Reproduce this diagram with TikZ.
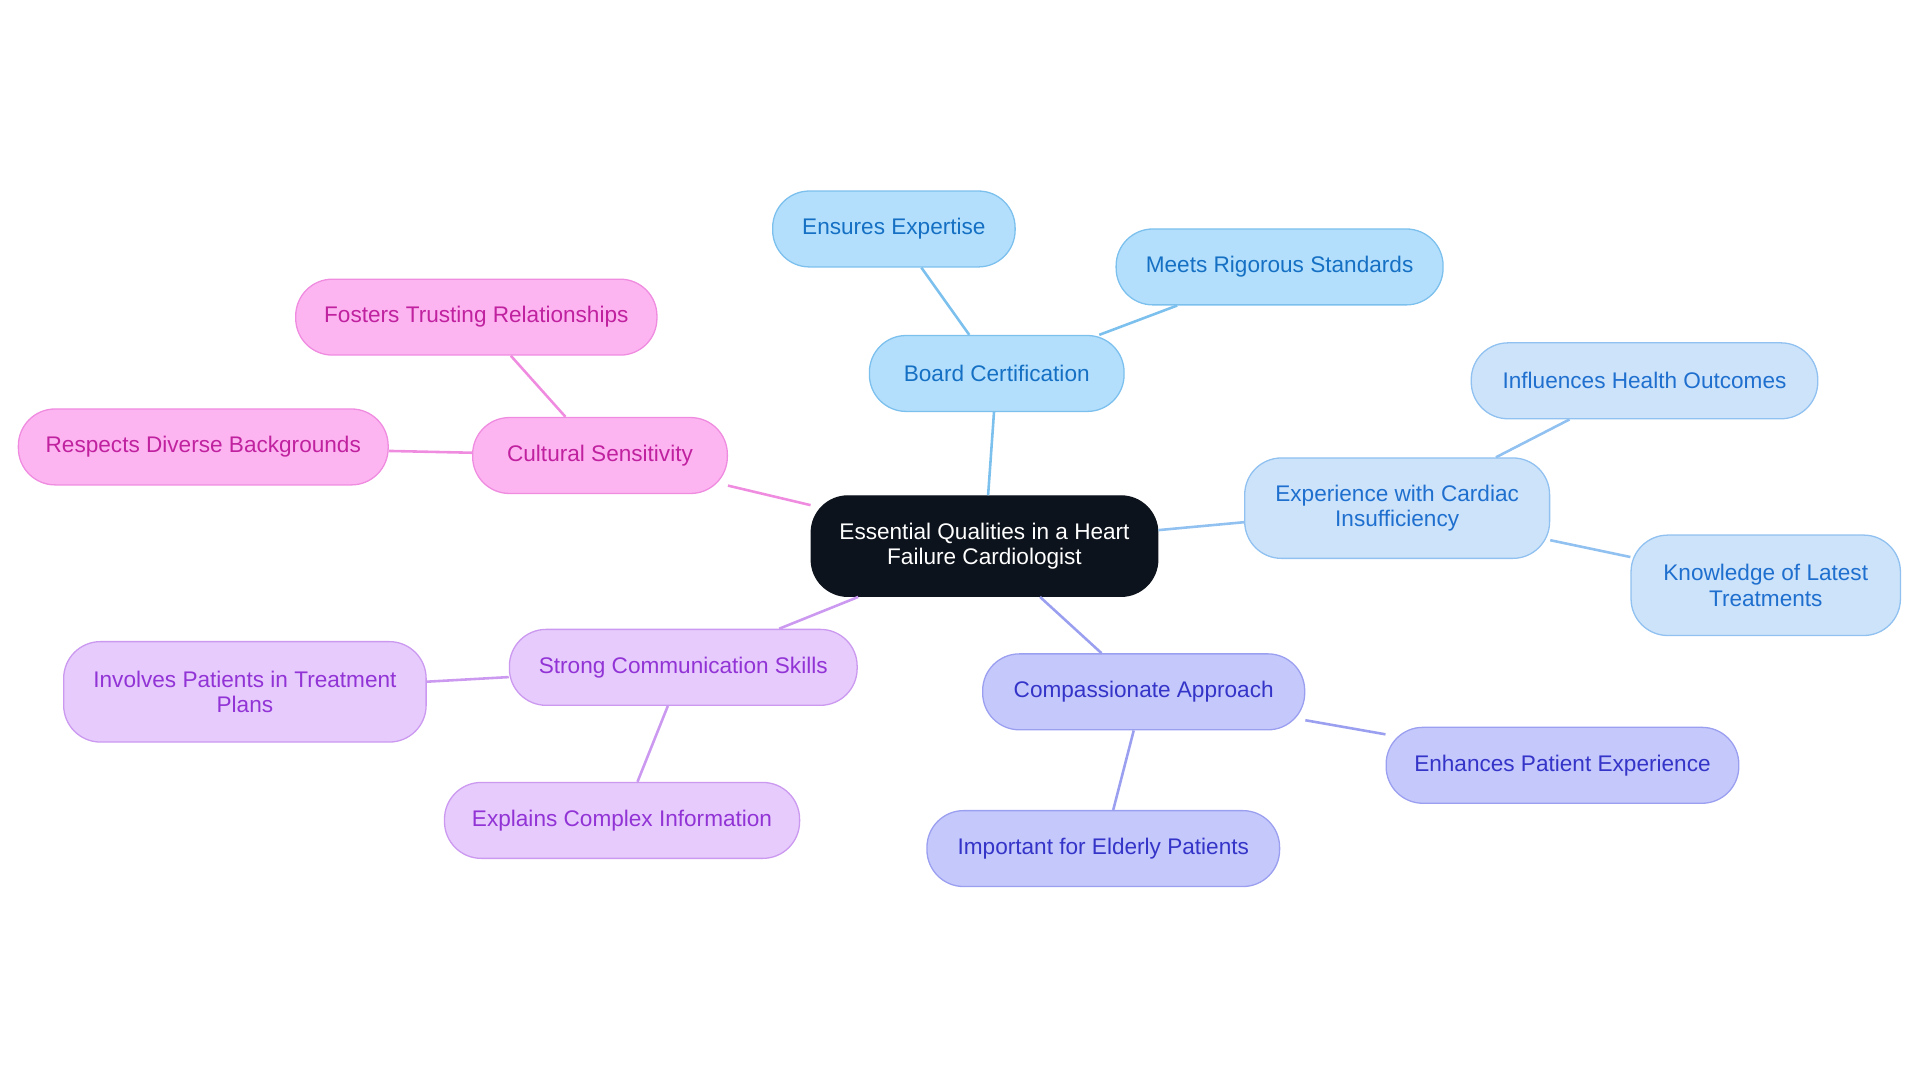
\documentclass[tikz,border=0pt]{standalone}
\usepackage{fontspec}
\setmainfont{Liberation Sans}
\definecolor{rootfill}{HTML}{0D131C}
\definecolor{bcfill}{HTML}{B3DFFC}\definecolor{bcline}{HTML}{7CC0EE}\definecolor{bctext}{HTML}{1570C4}
\definecolor{exfill}{HTML}{CCE3FA}\definecolor{exline}{HTML}{90C1F0}\definecolor{extext}{HTML}{1F6FCF}
\definecolor{cafill}{HTML}{C5C8FB}\definecolor{caline}{HTML}{9B9FF0}\definecolor{catext}{HTML}{3434C8}
\definecolor{scfill}{HTML}{E6CBFC}\definecolor{scline}{HTML}{CC99F0}\definecolor{sctext}{HTML}{9233D6}
\definecolor{csfill}{HTML}{FDB5F2}\definecolor{csline}{HTML}{EF8CE0}\definecolor{cstext}{HTML}{C0219F}
\tikzset{
  box/.style={rounded corners=0.6cm, minimum height=1.24cm, align=center, font=\fontsize{10.5pt}{12pt}\selectfont, line width=0.6pt},
  root/.style={box, fill=rootfill, draw=rootfill, text=white, minimum width=5.66cm, minimum height=1.64cm},
  bc/.style={box, fill=bcfill, draw=bcline, text=bctext},
  ex/.style={box, fill=exfill, draw=exline, text=extext},
  ca/.style={box, fill=cafill, draw=caline, text=catext},
  sc/.style={box, fill=scfill, draw=scline, text=sctext},
  cs/.style={box, fill=csfill, draw=csline, text=cstext},
  link/.style={line width=1.2pt}
}
\begin{document}
\begin{tikzpicture}
  \useasboundingbox (0,0) rectangle (31.36,-17.68);
  % Nodes
  \node (root) [root] at (16.08,-8.92) {Essential Qualities in a Heart\\Failure Cardiologist};
  \node (board) [bc, minimum width=4.16cm] at (16.28,-6.10) {Board Certification};
  \node (expertise) [bc, minimum width=3.96cm] at (14.60,-3.74) {Ensures Expertise};
  \node (standards) [bc, minimum width=5.34cm] at (20.90,-4.36) {Meets Rigorous Standards};
  \node (experience) [ex, minimum width=4.98cm, minimum height=1.64cm] at (22.82,-8.30) {Experience with Cardiac\\Insufficiency};
  \node (outcomes) [ex, minimum width=5.66cm] at (26.86,-6.22) {Influences Health Outcomes};
  \node (treatments) [ex, minimum width=4.40cm, minimum height=1.64cm] at (28.84,-9.56) {Knowledge of Latest\\Treatments};
  \node (compassion) [ca, minimum width=5.26cm] at (18.68,-11.30) {Compassionate Approach};
  \node (enhances) [ca, minimum width=5.76cm] at (25.52,-12.50) {Enhances Patient Experience};
  \node (elderly) [ca, minimum width=5.76cm] at (18.02,-13.86) {Important for Elderly Patients};
  \node (communication) [sc, minimum width=5.68cm] at (11.16,-10.90) {Strong Communication Skills};
  \node (involves) [sc, minimum width=5.92cm, minimum height=1.64cm] at (4.00,-11.30) {Involves Patients in Treatment\\Plans};
  \node (explains) [sc, minimum width=5.80cm] at (10.16,-13.40) {Explains Complex Information};
  \node (cultural) [cs, minimum width=4.16cm] at (9.80,-7.44) {Cultural Sensitivity};
  \node (trust) [cs, minimum width=5.90cm] at (7.78,-5.18) {Fosters Trusting Relationships};
  \node (diverse) [cs, minimum width=6.04cm] at (3.32,-7.30) {Respects Diverse Backgrounds};

  % Links
  \draw[link, bcline] (root) -- (board);
  \draw[link, bcline] (board) -- (expertise);
  \draw[link, bcline] (board) -- (standards);
  \draw[link, exline] (root) -- (experience);
  \draw[link, exline] (experience) -- (outcomes);
  \draw[link, exline] (experience) -- (treatments);
  \draw[link, caline] (root) -- (compassion);
  \draw[link, caline] (compassion) -- (enhances);
  \draw[link, caline] (compassion) -- (elderly);
  \draw[link, scline] (root) -- (communication);
  \draw[link, scline] (communication) -- (involves);
  \draw[link, scline] (communication) -- (explains);
  \draw[link, csline] (root) -- (cultural);
  \draw[link, csline] (cultural) -- (trust);
  \draw[link, csline] (cultural) -- (diverse);
\end{tikzpicture}
\end{document}
